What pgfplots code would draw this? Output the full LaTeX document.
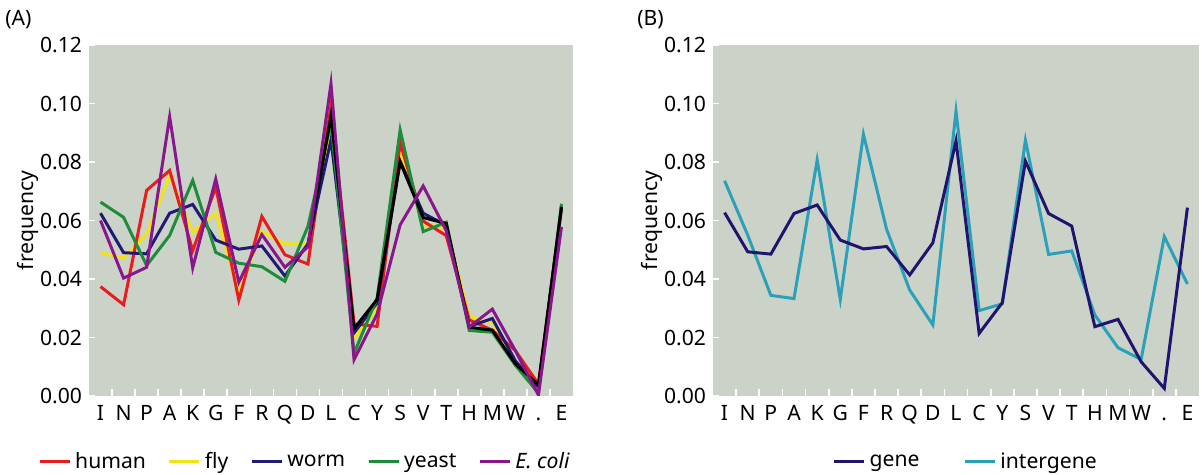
\documentclass[border=0pt]{standalone}
\usepackage{fontspec}
\setmainfont{Noto Sans}
\usepackage{pgfplots}
\usepackage{pgfplotstable}
\pgfplotsset{compat=1.18}
\definecolor{bg}{RGB}{203,211,201}
\definecolor{cred}{RGB}{232,28,30}
\definecolor{cyel}{RGB}{240,228,20}
\definecolor{cnavy}{RGB}{32,26,116}
\definecolor{cgreen}{RGB}{30,140,58}
\definecolor{cpurp}{RGB}{138,22,140}
\definecolor{cgene}{RGB}{32,20,110}
\definecolor{cint}{RGB}{44,160,184}

\pgfplotstableread{
x human fly worm yeast ecoli
0 .0374 .0491 .0625 .0663 .0600
1 .0312 .0471 .0490 .0611 .0403
2 .0703 .0554 .0486 .0446 .0440
3 .0771 .0754 .0625 .0549 .0955
4 .0497 .0560 .0655 .0737 .0438
5 .0714 .0625 .0533 .0491 .0742
6 .0328 .0354 .0502 .0454 .0389
7 .0614 .0563 .0513 .0442 .0552
8 .0483 .0520 .0410 .0392 .0440
9 .0451 .0520 .0520 .0580 .0510
10 .0994 .0915 .0876 .0935 .1068
11 .0247 .0198 .0216 .0146 .0124
12 .0238 .0300 .0318 .0335 .0280
13 .0866 .0838 .0803 .0910 .0585
14 .0598 .0586 .0625 .0562 .0718
15 .0548 .0575 .0583 .0594 .0565
16 .0260 .0272 .0238 .0224 .0236
17 .0225 .0252 .0265 .0218 .0297
18 .0155 .0115 .0120 .0105 .0155
19 .0041 .0012 .0030 .0010 .0003
20 .0640 .0640 .0645 .0657 .0578
}\tabA

\pgfplotstableread{
x blk
9 .0515
10 .0958
11 .0230
12 .0330
13 .0800
14 .0610
15 .0590
16 .0235
17 .0225
18 .0110
19 .0038
20 .0647
}\tabBlk

\pgfplotstableread{
x gene inter
0 .0627 .0736
1 .0493 .0550
2 .0485 .0344
3 .0624 .0333
4 .0653 .0807
5 .0533 .0330
6 .0503 .0895
7 .0511 .0570
8 .0414 .0362
9 .0524 .0243
10 .0872 .0974
11 .0214 .0292
12 .0319 .0315
13 .0803 .0875
14 .0624 .0484
15 .0581 .0496
16 .0237 .0277
17 .0262 .0165
18 .0117 .0125
19 .0026 .0545
20 .0644 .0383
}\tabB

\pgfplotsset{
  myaxis/.style={
    scale only axis, height=175.5bp,
    xmin=-0.5, xmax=20.5, ymin=0, ymax=0.12,
    xtick={0,...,20},
    xticklabels={I,N,P,A,K,G,F,R,Q,D,L,C,Y,S,V,T,H,M,W,.,E},
    xticklabel style={text height=1.6ex, text depth=0.3ex},
    major x tick style={draw=none},
    minor xtick={0.5,1.5,...,19.5},
    minor tick length=3.5bp,
    minor x tick style={white, line width=0.8pt},
    ytick={0,0.02,0.04,0.06,0.08,0.10,0.12},
    yticklabel style={/pgf/number format/.cd, fixed, fixed zerofill, precision=2},
    /pgf/number format/assume math mode=true,
    y tick style={white, line width=0.8pt},
    major tick length=3bp,
    tick align=inside, xtick pos=left, ytick pos=left,
    axis line style={draw=none},
    axis background/.style={fill=bg},
    ylabel={frequency},
    every axis y label/.style={at={(axis description cs:-0.126,0.5)}, rotate=90, anchor=center},
    every axis plot/.append style={line width=1.5pt},
    no markers,
    legend columns=-1,
    legend cell align=left,
    legend image code/.code={\draw[##1, line width=1.5pt] (0bp,0bp) -- (15bp,0bp);},
  }
}

\begin{document}
\begin{tikzpicture}[font=\fontsize{10.6}{13}\selectfont]
\useasboundingbox (0bp,0bp) rectangle (601bp,237.5bp);
\begin{axis}[myaxis, at={(44.5bp,39.5bp)}, width=242bp,
  legend style={draw=none, fill=none, at={(axis description cs:-0.118,-0.188)}, anchor=west,
    /tikz/every even column/.append style={column sep=9bp}}]
  \addlegendimage{cred}\addlegendentry{human}
  \addlegendimage{cyel}\addlegendentry{fly}
  \addlegendimage{cnavy}\addlegendentry{worm}
  \addlegendimage{cgreen}\addlegendentry{yeast}
  \addlegendimage{cpurp}\addlegendentry{\textit{E. coli}}
  \addplot[cyel, forget plot] table[x=x, y=fly] {\tabA};
  \addplot[cred, forget plot] table[x=x, y=human] {\tabA};
  \addplot[cnavy, forget plot] table[x=x, y=worm] {\tabA};
  \addplot[cgreen, forget plot] table[x=x, y=yeast] {\tabA};
  \addplot[black, forget plot] table[x=x, y=blk] {\tabBlk};
  \addplot[cpurp, forget plot] table[x=x, y=ecoli] {\tabA};
\end{axis}
\begin{axis}[myaxis, at={(356.5bp,39.5bp)}, width=243bp,
  legend style={draw=none, fill=none, at={(axis description cs:0.233,-0.188)}, anchor=west,
    /tikz/every even column/.append style={column sep=20bp}}]
  \addlegendimage{cgene}\addlegendentry{gene}
  \addlegendimage{cint}\addlegendentry{intergene}
  \addplot[cint, forget plot] table[x=x, y=inter] {\tabB};
  \addplot[cgene, forget plot] table[x=x, y=gene] {\tabB};
\end{axis}
\node[anchor=west, inner sep=0pt] at (2.5bp,227.5bp) {(A)};
\node[anchor=west, inner sep=0pt] at (318.5bp,227.5bp) {(B)};
\end{tikzpicture}
\end{document}
